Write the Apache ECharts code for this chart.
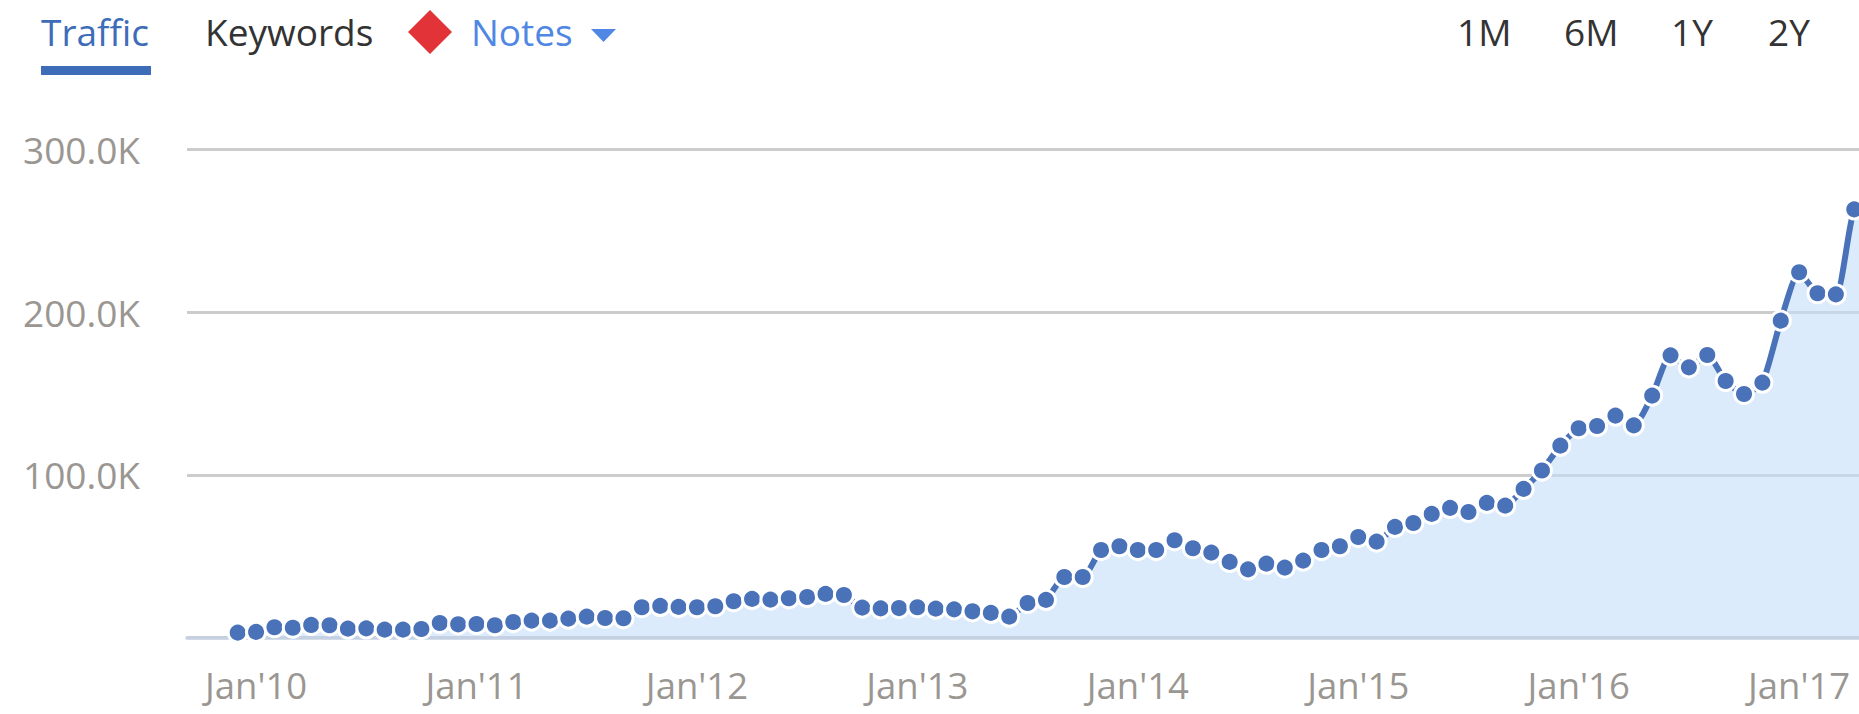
<!DOCTYPE html>
<html>
<head>
<meta charset="utf-8">
<title>Traffic</title>
<style>html,body{margin:0;padding:0;background:#fff;overflow:hidden}#c{width:1859px;height:714px}</style>
<script src="https://cdn.jsdelivr.net/npm/echarts@6/dist/echarts.min.js"></script>
</head>
<body>
<div id="c"></div>
<script>
// Monthly traffic in thousands, Dec'09 onward (month index -1 = Dec'09, 0 = Jan'10).
// The final entry lies just past the picture's right edge; only its line and fill show.
const firstMonth = -1;
const trafficK = [
  2.9,3.3,6.2,5.9,7.6,7.4,5.3,5.5,4.7,4.7,5.1,8.8,8.0,8.2,7.4,9.4,10.3,10.3,11.5,12.7,11.9,11.7,18.5,
  19.3,18.7,18.5,19.1,22.2,23.6,23.2,24.0,24.8,26.7,26.0,18.3,17.8,18.0,18.5,17.6,17.2,16.0,15.0,12.7,
  21.1,23.0,37.1,37.1,53.7,56.0,53.7,53.7,59.7,54.8,52.1,46.4,41.8,45.3,42.9,47.2,53.7,56.0,61.7,58.9,
  67.9,70.3,75.9,79.6,77.1,82.7,81.0,91.3,102.6,117.9,128.6,130.0,136.4,130.4,148.7,173.5,166.1,173.7,
  157.7,149.7,156.7,194.8,224.6,211.7,211.0,263.3,268
];
const xTickMonths = [0,12,24,36,48,60,72,84];
const xTickLabels = ["Jan'10","Jan'11","Jan'12","Jan'13","Jan'14","Jan'15","Jan'16","Jan'17"];
const yTicks = [0,100000,200000,300000];
const yTickLabels = ["","100.0K","200.0K","300.0K"];
const leftTabs = ["Traffic","Keywords","Notes"];
const rangeTabs = ["1M","6M","1Y","2Y"];

const BLUE = '#4a72b9';
const FONT = '"Open Sans", sans-serif';
const chart = echarts.init(document.getElementById('c'), null, {renderer:'svg', width:1859, height:714});
const txt = (text,x,fill) => ({type:'text', x, y:31, style:{text, fill, font:'37px '+FONT, verticalAlign:'middle'}});
const points = trafficK.map((v,i)=>[firstMonth+i, v*1000]);

chart.setOption({
  animation:false,
  backgroundColor:'#fff',
  grid:{left:187, right:0, top:149.7, bottom:714-637.3, containLabel:false},
  xAxis:{
    type:'value', min:-3.76, max:87.26, z:2,
    splitLine:{show:false}, axisTick:{show:false},
    axisLine:{show:true, onZero:false, lineStyle:{color:'#c5d0e2', width:3.5}},
    axisLabel:{
      customValues:xTickMonths, showMinLabel:true, showMaxLabel:true,
      formatter:v => xTickLabels[xTickMonths.indexOf(v)] || '',
      color:'#9a9692', fontFamily:FONT, fontSize:36.5, margin:29
    }
  },
  yAxis:{
    type:'value', min:0, max:300000, interval:100000,
    axisLine:{show:false}, axisTick:{show:false},
    splitLine:{show:true, lineStyle:{color:'#cccccc', width:3}},
    axisLabel:{
      formatter:v => yTickLabels[yTicks.indexOf(v)],
      color:'#9a9692', fontFamily:FONT, fontSize:37, margin:47, align:'right'
    }
  },
  series:[{
    type:'line', name:'Traffic area',
    data:points, smooth:0.2, symbol:'none',
    lineStyle:{width:0},
    areaStyle:{color:'rgba(195,222,250,0.6)', opacity:1},
    z:1
  },{
    type:'line', name:'Traffic',
    data:points, smooth:0.2,
    symbol:'circle', symbolSize:19, showAllSymbol:true,
    itemStyle:{color:BLUE, borderColor:'#fff', borderWidth:3},
    lineStyle:{color:BLUE, width:6},
    z:3
  }],
  graphic:{elements:[
    txt(leftTabs[0],41,'#3d6cb9'),
    txt(leftTabs[1],205,'#333333'),
    txt(leftTabs[2],471,'#5087e4'),
    {type:'rect', shape:{x:41,y:66,width:110,height:9}, style:{fill:'#3d6cb9'}},
    {type:'polygon', shape:{points:[[430,10],[452,32],[430,54],[408,32]]}, style:{fill:'#e23339'}},
    {type:'polygon', shape:{points:[[591,29],[616,29],[603.5,42]]}, style:{fill:'#5087e4'}},
    txt(rangeTabs[0],1457,'#333333'),
    txt(rangeTabs[1],1564,'#333333'),
    txt(rangeTabs[2],1671,'#333333'),
    txt(rangeTabs[3],1768,'#333333')
  ]}
});
</script>
</body>
</html>
